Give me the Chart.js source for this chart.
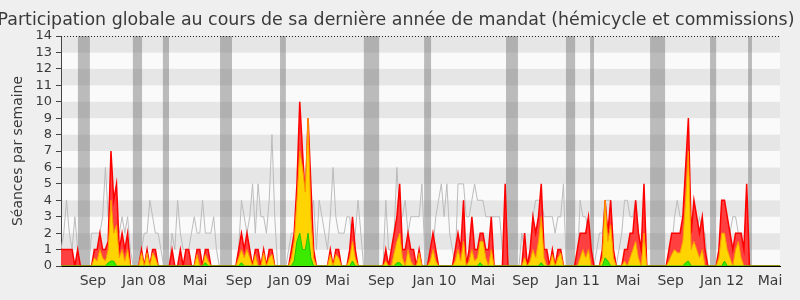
<!DOCTYPE html>
<html>
<head>
<meta charset="utf-8">
<title>Participation globale</title>
<script src="https://cdn.jsdelivr.net/npm/chart.js@4"></script>
<style>
  html, body { margin: 0; padding: 0; background: #efefef; }
  #wrap { width: 800px; height: 300px; }
</style>
</head>
<body>
<div id="wrap"><canvas id="chart" width="800" height="300"></canvas></div>
<script>
// weekly values, one entry per week (week 0 = early June 2007)
const RED = [
  1,1,1,1,1,0,1,0,0,0,
  0,0,1,1,2,1,1,1.5,7,4,
  5,1,2,1,2,0,0,0,0,1,
  0,1,0,1,1,0,0,0,0,0,
  1,0,0,1,0,1,1,0,0,1,
  1,0,1,1,0,0,0,0,0,0,
  0,0,0,0,1,2,1,2,1,0,
  1,1,0,1,0,1,1,0,0,0,
  0,0,0,1,2,5,10,7,4,9,
  5,1,0,0,0,0,0,1,0,1,
  1,0,0,0,1,3,1,0,0,0,
  0,0,0,0,0,0,0,1,0,1,
  2,3,5,1,1,2,1,1,0,1,
  0,0,0,1,2,1,0,0,0,0,
  0,0,1,2,1,4,0,1,3,1,
  1,2,2,1,1,3,0,0,0,0,
  5,0,0,0,0,0,0,2,0,1,
  3,2,3,5,1,1,0,1,0,1,
  1,0,0,0,0,0,1,2,2,2,
  3,1,0,0,0,1,4,2,4,1,
  0,0,0,1,1,2,2,4,2,1,
  5,0,0,0,0,0,0,0,0,1,
  2,2,2,2,3,6,9,2,4,3,
  2,3,1,0,0,0,0,1,4,4,
  3,2,1,2,2,2,1,5,0,0,
  0,0,0,0,0,0,0,0,0,0
];

const YELLOW = [
  0,0,0,0,0,0,0,0,0,0,
  0,0,0.5,0.3,1,0.5,0.3,1,4,2,
  2.5,0.5,1,0.3,1,0,0,0,0,0.8,
  0,0.8,0,0.8,0.5,0,0,0,0,0,
  0,0,0,0,0,0,0,0,0,0.7,
  0,0,0.7,0.3,0,0,0,0,0,0,
  0,0,0,0,0.5,1,0.5,1,0.5,0,
  0.7,0,0,0.8,0,0.5,0.7,0,0,0,
  0,0,0,0.5,1.5,4,7,6,4.5,9,
  3,0.5,0,0,0,0,0,0.7,0,0.7,
  0.5,0,0,0,0.5,1.5,0.5,0,0,0,
  0,0,0,0,0,0,0,0.3,0,0,
  0.8,1.5,2,0.5,0,1,0.3,0,0,0.8,
  0,0,0,0.3,1,0.3,0,0,0,0,
  0,0,0.3,1,0.3,1.5,0,0.3,1,0.3,
  0.5,1.5,1.5,0.5,0,1,0,0,0,0,
  0,0,0,0,0,0,0,0.5,0,0.3,
  1,0.5,1.5,3,0.5,0,0,0.7,0,0.5,
  0.8,0,0,0,0,0,0,0.5,1,0.5,
  1,0,0,0,0,0.5,4,1.5,2.5,0.5,
  0,0,0,0.3,0,0.5,1,1.5,0.5,0,
  2,0,0,0,0,0,0,0,0,0.3,
  0.7,1,0.8,0.8,1.5,4,7,1,1.5,1,
  0.5,1,0,0,0,0,0,0.5,2,2,
  1,0.5,0,1,1.5,0.5,0,0,0,0,
  0,0,0,0,0,0,0,0,0,0
];

const GREEN = [
  0,0,0,0,0,0,0,0,0,0,
  0,0,0,0,0,0,0,0.2,0.3,0.3,
  0,0,0,0,0,0,0,0,0,0,
  0,0,0,0,0,0,0,0,0,0,
  0,0,0,0,0,0,0,0,0,0,
  0,0,0.2,0,0,0,0,0,0,0,
  0,0,0,0,0,0.2,0,0,0,0,
  0,0,0,0,0,0,0,0,0,0,
  0,0,0,0,0.3,1.5,2,1,1,2,
  0.5,0,0,0,0,0,0,0,0,0,
  0,0,0,0,0,0.3,0,0,0,0,
  0,0,0,0,0,0,0,0,0,0,
  0,0.2,0.2,0,0,0,0,0,0,0,
  0,0,0,0,0,0,0,0,0,0,
  0,0,0,0,0,0,0,0,0,0,
  0,0.2,0,0,0,0,0,0,0,0,
  0,0,0,0,0,0,0,0,0,0,
  0,0,0,0.2,0,0,0,0,0,0,
  0,0,0,0,0,0,0,0,0,0,
  0,0,0,0,0,0,0.5,0.3,0,0,
  0,0,0,0,0,0,0,0,0,0,
  0,0,0,0,0,0,0,0,0,0,
  0,0,0,0,0,0.2,0.3,0,0,0,
  0,0,0,0,0,0,0,0,0,0.3,
  0,0,0,0,0,0,0,0,0,0,
  0,0,0,0,0,0,0,0,0,0
];

// grey line: weekly median of the other deputies
const MEDIAN = [
  1,2,4,2,1,3,1,0,0,0,
  0,2,2,2,2,3,6,3,5,3,
  3,2,3,2,3,1,0,0,0,1,
  2,2,4,3,2,2,1,0,0,0,
  2,1,4,2,1,1,1,2,3,2,
  2,4,2,2,2,3,1,0,0,0,
  0,0,0,0,1,4,3,2,3,5,
  2,5,3,3,2,4,8,3,0,0,
  0,0,1,2,2,3,4,3,3,3,
  3,4,1,4,3,2,1,3,6,3,
  2,2,2,3,3,1,2,4,2,0,
  0,0,0,0,0,0,0,4,1,1,
  2,6,3,3,4,2,3,3,3,3,
  5,1,0,0,1,3,4,5,3,5,
  2,1,0,5,5,5,3,3,4,5,
  4,4,4,3,3,3,3,3,3,1,
  0,0,0,0,0,0,2,1,0,1,
  3,4,4,4,3,3,3,3,2,3,
  3,5,0,0,0,0,0,4,3,3,
  2,1,0,1,2,2,4,4,4,1,
  0,1,2,4,4,3,3,4,2,1,
  1,0,0,0,0,0,0,0,0,0,
  1,3,4,3,3,3,2,2,3,2,
  3,2,2,0,0,0,0,1,2,2,
  2,2,3,3,2,1,1,0,0,0,
  0,0,0,0,0,0,0,0,0,0
];

// parliamentary holidays, [first week, last week]
const HOLIDAYS = [
  [6.1, 10.4], [25.9, 29.2], [36.7, 38.9], [57.3, 61.6], [78.9, 81],
  [109.1, 114.6], [130.8, 133.3], [160.3, 164.6], [181.9, 185.2], [190.6, 192],
  [212.2, 217.6], [233.8, 236], [247.5, 248.9]
];

const TICK_WEEKS = [11.5, 29.9, 48.3, 64.1, 82.5, 99.6, 115.3, 134.5, 152, 167.3, 186.2, 204.3, 219.6, 238.1, 255.4];
const TICK_LABELS = ['Sep', 'Jan 08', 'Mai', 'Sep', 'Jan 09', 'Mai', 'Sep', 'Jan 10', 'Mai', 'Sep', 'Jan 11', 'Mai', 'Sep', 'Jan 12', 'Mai'];

const TITLE = 'Participation globale au cours de sa dernière année de mandat (hémicycle et commissions)';
const Y_TITLE = 'Séances par semaine';
const Y_MAX = 14;

(function () {
  'use strict';

  const FONT = '"DejaVu Sans", Verdana, sans-serif';
  const TEXT = '#3a3a3a';
  const pts = (arr) => arr.map((v, i) => ({ x: i, y: v }));

  // stripes, holiday bands and frame under everything else
  const backdrop = {
    id: 'backdrop',
    beforeDraw(chart) {
      const { ctx, chartArea: a, scales: { x, y } } = chart;
      ctx.save();
      ctx.fillStyle = '#efefef';
      ctx.fillRect(0, 0, chart.width, chart.height);

      for (let v = 0; v < Y_MAX; v++) {
        const top = y.getPixelForValue(v + 1), bot = y.getPixelForValue(v);
        ctx.fillStyle = v % 2 ? '#e6e6e6' : '#fafafa';
        ctx.fillRect(a.left, top, a.right - a.left, bot - top);
      }

      ctx.fillStyle = 'rgba(110,110,110,0.45)';
      HOLIDAYS.forEach(([s, e]) => {
        const x0 = x.getPixelForValue(s), x1 = x.getPixelForValue(e);
        ctx.fillRect(x0, a.top, x1 - x0, a.bottom - a.top);
      });
      ctx.restore();
    },
    afterDraw(chart) {
      const { ctx, chartArea: a } = chart;
      ctx.save();
      // dotted top line
      ctx.strokeStyle = '#222';
      ctx.lineWidth = 1;
      ctx.setLineDash([1, 2]);
      ctx.beginPath();
      ctx.moveTo(a.left, a.top + 0.5);
      ctx.lineTo(a.right, a.top + 0.5);
      ctx.stroke();
      ctx.setLineDash([]);

      ctx.fillStyle = TEXT;
      ctx.font = '17.4px ' + FONT;
      ctx.textAlign = 'center';
      ctx.textBaseline = 'alphabetic';
      ctx.fillText(TITLE, 396, 25);
      ctx.restore();
    }
  };

  const line = (data, fillCol, lineCol, width) => ({
    data: pts(data),
    backgroundColor: fillCol,
    borderColor: lineCol,
    borderWidth: width,
    fill: fillCol ? 'origin' : false,
    pointRadius: 0,
    tension: 0
  });

  new Chart(document.getElementById('chart'), {
    type: 'line',
    data: {
      datasets: [
        line(GREEN, '#3cea00', '#22c400', 1),
        line(YELLOW, '#ffd400', '#ff9a00', 1),
        line(RED, '#ff4040', '#ff0000', 1.5),
        line(MEDIAN, null, '#bcbcbc', 1)
      ]
    },
    options: {
      responsive: false,
      animation: false,
      devicePixelRatio: 1,
      layout: { padding: { top: 36, right: 20, left: 0, bottom: 0 } },
      plugins: { legend: { display: false }, tooltip: { enabled: false }, title: { display: false } },
      scales: {
        x: {
          type: 'linear',
          min: 0,
          max: RED.length - 1,
          afterFit: (s) => { s.height = 34; },
          afterBuildTicks: (s) => { s.ticks = TICK_WEEKS.map((v) => ({ value: v })); },
          grid: { display: false, drawTicks: false },
          border: { display: true, color: '#000', width: 1 },
          ticks: {
            autoSkip: false, maxRotation: 0, padding: 7,
            color: TEXT, font: { family: FONT, size: 14 },
            callback: (v, i) => TICK_LABELS[i]
          }
        },
        y: {
          min: 0,
          max: Y_MAX,
          afterFit: (s) => { s.width = 61; },
          grid: { drawOnChartArea: false, drawTicks: true, tickLength: 5, color: '#444' },
          border: { display: true, color: '#444', width: 1 },
          ticks: { stepSize: 1, autoSkip: false, padding: 4, color: TEXT, font: { family: FONT, size: 13 } },
          title: {
            display: true, text: Y_TITLE, color: TEXT,
            font: { family: FONT, size: 14 }, padding: { top: 10, bottom: 0 }
          }
        }
      }
    },
    plugins: [backdrop]
  });
})();
</script>
</body>
</html>
